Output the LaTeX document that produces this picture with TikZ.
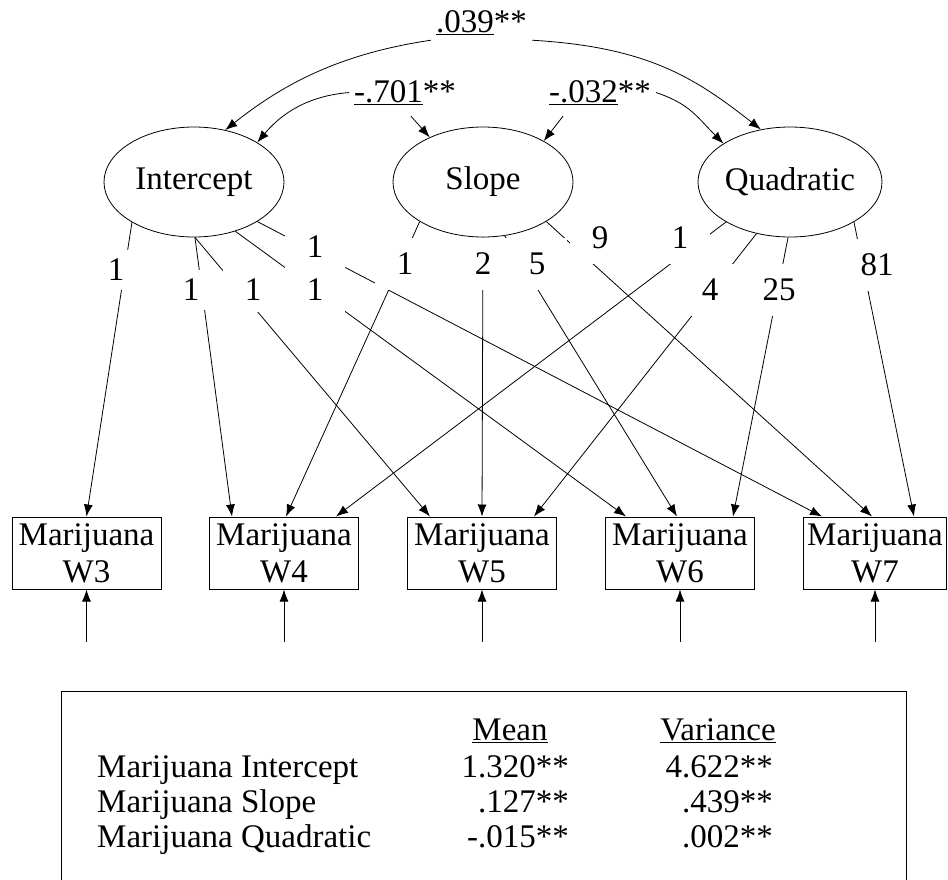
\documentclass[tikz,border=0pt]{standalone}
\usepackage{fontspec}
\setmainfont{Liberation Serif}
\usetikzlibrary{arrows.meta,shapes.geometric}
\newsavebox\myulbox
\newcommand\myul[1]{\sbox\myulbox{#1}\rlap{\rule[-3pt]{\wd\myulbox}{1pt}}\usebox\myulbox}
\begin{document}
\begin{tikzpicture}[x=1pt,y=-1pt,
  every node/.style={font=\fontsize{33pt}{37pt}\selectfont, inner sep=0pt},
  conn/.style={line width=0.8pt},
  arr/.style={conn, -{Latex[length=12pt,width=9pt]}},
  latent/.style={ellipse, draw, line width=0.8pt, minimum width=180pt, minimum height=110pt},
  obs/.style={rectangle, draw, line width=1pt, minimum width=149pt, minimum height=72pt, align=center},
  lab/.style={fill=white, minimum width=60pt, minimum height=52pt},
  labi/.style={lab, minimum height=40pt},
  cov/.style={inner sep=5pt, anchor=base}
]
\useasboundingbox (0,0) rectangle (948,879);

% latent factors
\node[latent] (I) at (194,182) {Intercept};
\node[latent] (S) at (483,182) {Slope};
\node[latent] (Q) at (790,182) {Quadratic};

% observed
\node[obs] (W3) at (86.5,553) {Marijuana\\W3};
\node[obs] (W4) at (284,553) {Marijuana\\W4};
\node[obs] (W5) at (482,553) {Marijuana\\W5};
\node[obs] (W6) at (680,553) {Marijuana\\W6};
\node[obs, minimum width=143pt] (W7) at (875,553) {Marijuana\\W7};

% error terms
\coordinate (e3) at (86.5,642);
\coordinate (e4) at (284,642);
\coordinate (e5) at (482,642);
\coordinate (e6) at (680,642);
\coordinate (e7) at (875,642);
\foreach \i in {3,...,7} \draw[arr] (e\i) -- (W\i.south);

% loadings
\draw[arr] (I.213) -- (W3.north);
\draw[arr] (I.271) -- ([xshift=-52pt]W4.north);
\draw[arr] (I.271) -- ([xshift=-52pt]W5.north);
\draw[arr] (I.310) -- ([xshift=-54pt]W6.north);
\draw[arr] (I.328) -- ([xshift=-53pt]W7.north);
\draw[arr] (S.212) -- ([xshift=2pt]W4.north);
\draw[arr] (S.270) -- (W5.north);
\draw[arr] (S.292) -- ([xshift=-3pt]W6.north);
\draw[arr] (S.328) -- ([xshift=-3pt]W7.north);
\draw[arr] (Q.212) -- ([xshift=52pt]W4.north);
\draw[arr] (Q.237) -- ([xshift=52pt]W5.north);
\draw[arr] (Q.268) -- ([xshift=53pt]W6.north);
\draw[arr] (Q.328) -- ([xshift=39pt]W7.north);

% loading labels
\node[labi] (l13) at (116,270) {1};
\node[labi] (l14) at (191,290) {1};
\node[lab, minimum height=44pt] (l15) at (253,290) {1};
\node[lab, minimum height=48pt] (l16) at (315,290) {1};
\node[labi] (l17) at (315,247) {1};
\node[lab] (l24) at (405,264) {1};
\node[lab] (l25) at (483,264) {2};
\node[lab] (l26) at (537,264) {5};
\node[lab] (l27) at (600,238) {9};
\node[lab] (l34) at (680,238) {1};
\node[lab] (l35) at (710,290) {4};
\node[lab] (l36) at (779,290) {25};
\node[lab] (l37) at (877,265) {81};

% covariances
\node[cov] (c1) at (481.5,32) {\myul{.039}**};
\node[cov] (c2) at (405,102) {\myul{-.701}**};
\node[cov] (c3) at (600,102) {\myul{-.032}**};
\draw[arr] (c1.south west) .. controls (338,54) and (282,85) .. (I.59);
\draw[arr] (c1.south east) .. controls (647,47) and (694,77) .. (Q.119);
\draw[arr] (c2.west) .. controls (308,96) and (282,113) .. (I.32);
\draw[arr] ([xshift=6pt,yshift=-6pt]c2.south) -- (S.140);
\draw[arr] ([xshift=-37pt,yshift=-6pt]c3.south) -- (S.34);
\draw[arr] (c3.east) .. controls (690,104) and (697,117) .. (Q.150);

% table
\node[draw, line width=1.3pt, anchor=north west, minimum width=845pt, minimum height=215pt] (tbl) at (61,691) {};
\node[anchor=base] (hm) at (510,740) {\myul{Mean}};
\node[anchor=base] (hv) at (718,740) {\myul{Variance}};
\node[anchor=base west] (r1) at (97,777) {Marijuana Intercept};
\node[anchor=base west] (r2) at (97,812) {Marijuana Slope};
\node[anchor=base west] (r3) at (97,847) {Marijuana Quadratic};
\node[anchor=base east] (m1) at (569,777) {1.320**};
\node[anchor=base east] (m2) at (569,812) {.127**};
\node[anchor=base east] (m3) at (569,847) {-.015**};
\node[anchor=base east] (v1) at (773,777) {4.622**};
\node[anchor=base east] (v2) at (773,812) {.439**};
\node[anchor=base east] (v3) at (773,847) {.002**};
\end{tikzpicture}
\end{document}
